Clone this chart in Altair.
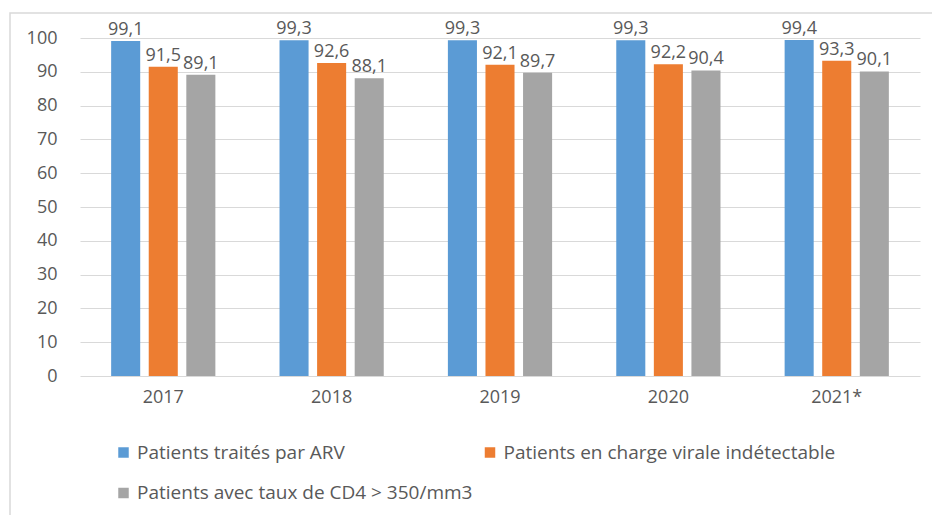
import altair as alt
import pandas as pd

# Source values (percent of patients)
years = ["2017", "2018", "2019", "2020", "2021*"]
series = [
    "Patients traités par ARV",
    "Patients en charge virale indétectable",
    "Patients avec taux de CD4 > 350/mm3",
]
traites_arv = [99.1, 99.3, 99.3, 99.3, 99.4]
charge_virale = [91.5, 92.6, 92.1, 92.2, 93.3]
cd4_350 = [89.1, 88.1, 89.7, 90.4, 90.1]
colors = ["#5B9BD5", "#ED7D31", "#A5A5A5"]
y_ticks = [0, 10, 20, 30, 40, 50, 60, 70, 80, 90, 100]

rows = []
for s, vals in zip(series, [traites_arv, charge_virale, cd4_350]):
    for y, v in zip(years, vals):
        rows.append({"annee": y, "serie": s, "valeur": v,
                     "label": f"{v:.1f}".replace(".", ",")})
df = pd.DataFrame(rows)

FONT = "Open Sans"
TXT = "#595959"
FS = 18

x_enc = alt.X("annee:N", sort=years, title=None,
              scale=alt.Scale(paddingInner=0.381, paddingOuter=0.185),
              axis=alt.Axis(labelAngle=0, domain=False, ticks=False,
                            labelPadding=12, labelFontSize=FS,
                            labelColor=TXT, labelFont=FONT))
xo_enc = alt.XOffset("serie:N", sort=series,
                     scale=alt.Scale(paddingInner=0.227, paddingOuter=0))
y_enc = alt.Y("valeur:Q", title=None,
              scale=alt.Scale(domain=[0, 100], nice=False),
              axis=alt.Axis(values=y_ticks, labelOverlap=False,
                            domain=False, ticks=False, labelPadding=23,
                            labelFontSize=FS, labelColor=TXT, labelFont=FONT,
                            gridColor="#D9D9D9", gridWidth=1))
color_enc = alt.Color("serie:N", sort=series,
                      scale=alt.Scale(domain=series, range=colors),
                      legend=None)

base = alt.Chart(df)
bars = base.mark_bar().encode(x=x_enc, xOffset=xo_enc, y=y_enc, color=color_enc)
labels = base.mark_text(baseline="alphabetic", dy=-6, fontSize=FS,
                        font=FONT, color=TXT).encode(
    x=x_enc, xOffset=xo_enc, y=y_enc, text="label:N")

# Outer frame around the whole figure
frame = alt.Chart(pd.DataFrame({"k": [0]})).mark_rect(
    fill="white", fillOpacity=0, stroke="#D9D9D9", strokeWidth=1.5
).encode(x=alt.value(-70), x2=alt.value(870), y=alt.value(-25), y2=alt.value(490))

# Legend drawn below the plot: two entries on the first row, one on the second
legend_pos = [(43.5, 414.5), (410, 414.5), (43.5, 455)]
legend_layers = []
for name, col, (lx, ly) in zip(series, colors, legend_pos):
    d = pd.DataFrame({"serie": [name]})
    legend_layers.append(
        alt.Chart(d).mark_square(size=110, color=col, opacity=1).encode(
            x=alt.value(lx), y=alt.value(ly)))
    legend_layers.append(
        alt.Chart(d).mark_text(align="left", baseline="middle", fontSize=19,
                               font=FONT, color=TXT).encode(
            x=alt.value(lx + 13.5), y=alt.value(ly), text="serie:N"))

chart = alt.layer(bars, labels, frame, *legend_layers).properties(
    width=840, height=338,
    autosize=alt.AutoSizeParams(type="none"),
    padding={"left": 80, "top": 38, "right": 12, "bottom": 139},
    background="white",
).configure_view(stroke=None)

chart.save("out.html", embed_options={"renderer": "svg", "actions": False})
